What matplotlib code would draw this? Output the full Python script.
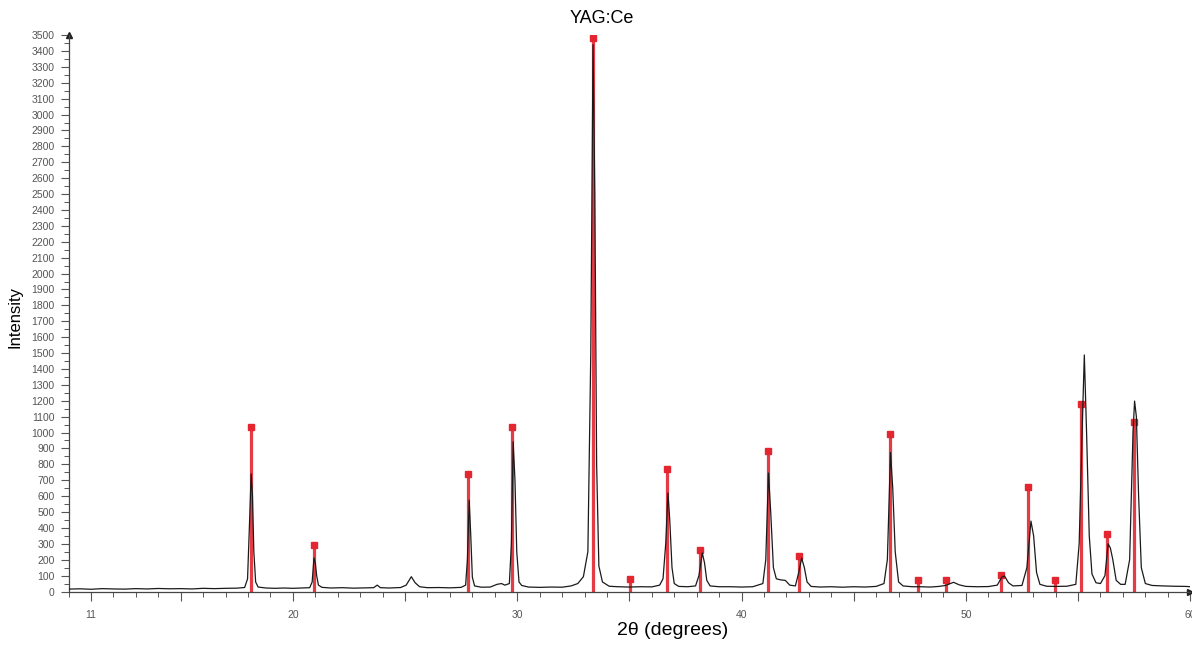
import matplotlib.pyplot as plt
from matplotlib.ticker import MultipleLocator

plt.rcParams['font.family'] = ['Liberation Sans', 'DejaVu Sans']

# reference pattern (red sticks): 2theta and intensity
ref_pos = [18.12, 20.94, 27.82, 29.78, 33.36, 35.01, 36.68, 38.13, 41.19, 42.54,
           46.61, 47.87, 49.10, 51.56, 52.79, 53.96, 55.15, 56.28, 57.49]
ref_int = [1033, 295, 738, 1033, 3480, 77, 773, 258, 886, 222,
           991, 70, 70, 105, 659, 70, 1178, 364, 1069]

scan_2theta = [10.0, 10.5, 11.0, 11.5, 12.0, 12.5, 13.0, 13.5, 14.0, 14.5,
               15.0, 15.5, 16.0, 16.5, 17.0, 17.5, 17.85, 17.98, 18.06, 18.14,
               18.20, 18.26, 18.34, 18.45, 18.8, 19.2, 19.6, 20.0, 20.4, 20.75,
               20.86, 20.94, 21.00, 21.06, 21.14, 21.3, 21.7, 22.2, 22.7, 23.2,
               23.6, 23.76, 23.9, 24.3, 24.8, 25.05, 25.28, 25.45, 25.65, 26.0,
               26.5, 27.0, 27.5, 27.7, 27.78, 27.86, 27.93, 28.0, 28.1, 28.4,
               28.8, 29.1, 29.3, 29.45, 29.65, 29.74, 29.82, 29.90, 29.98, 30.08,
               30.2, 30.5, 31.0, 31.5, 32.0, 32.4, 32.7, 32.95, 33.15, 33.28,
               33.38, 33.46, 33.54, 33.64, 33.8, 34.1, 34.5, 35.0, 35.5, 36.0,
               36.35, 36.5, 36.62, 36.72, 36.80, 36.90, 37.0, 37.2, 37.6, 37.95,
               38.1, 38.25, 38.35, 38.45, 38.6, 39.0, 39.5, 40.0, 40.5, 40.95,
               41.08, 41.20, 41.30, 41.42, 41.55, 41.75, 41.95, 42.15, 42.4, 42.55,
               42.68, 42.8, 42.92, 43.1, 43.5, 44.0, 44.5, 45.0, 45.5, 46.0,
               46.35, 46.5, 46.64, 46.74, 46.85, 47.0, 47.2, 47.6, 48.0, 48.4,
               48.8, 49.1, 49.45, 49.7, 50.0, 50.5, 51.0, 51.4, 51.6, 51.72,
               51.9, 52.1, 52.5, 52.72, 52.9, 53.02, 53.15, 53.3, 53.6, 54.0,
               54.5, 54.9, 55.05, 55.18, 55.28, 55.38, 55.5, 55.62, 55.8, 56.0,
               56.2, 56.34, 56.44, 56.55, 56.7, 56.9, 57.1, 57.3, 57.45, 57.52,
               57.6, 57.7, 57.82, 58.0, 58.3, 58.8, 59.3, 59.8, 60.0]
scan_counts = [15, 17, 14, 18, 16, 15, 18, 16, 19, 17,
               18, 16, 20, 18, 20, 21, 25, 80, 400, 740,
               600, 250, 60, 28, 22, 20, 22, 20, 22, 24,
               60, 211, 180, 100, 40, 26, 22, 24, 21, 23,
               24, 40, 24, 22, 25, 40, 93, 55, 30, 24,
               25, 23, 26, 40, 200, 575, 350, 90, 35, 27,
               28, 45, 50, 40, 50, 300, 942, 700, 250, 60,
               38, 28, 26, 28, 27, 35, 50, 93, 250, 1500,
               3440, 2500, 800, 160, 60, 33, 30, 28, 30, 29,
               40, 80, 300, 620, 450, 150, 50, 32, 30, 35,
               100, 242, 180, 70, 35, 30, 30, 28, 30, 50,
               200, 745, 500, 150, 80, 73, 70, 40, 35, 120,
               210, 150, 60, 32, 28, 30, 27, 30, 28, 32,
               50, 200, 874, 650, 250, 60, 35, 30, 30, 28,
               32, 38, 58, 42, 32, 30, 31, 40, 90, 98,
               55, 35, 38, 150, 443, 350, 120, 45, 33, 32,
               33, 45, 300, 1000, 1488, 1000, 350, 110, 55, 50,
               100, 300, 274, 200, 70, 45, 45, 200, 1000, 1198,
               1100, 600, 150, 50, 38, 35, 33, 32, 30]

fig = plt.figure(figsize=(11.92, 6.5), dpi=100)
ax = fig.add_axes([0.0575, 0.09, 0.941, 0.856])

# red reference sticks with square caps
ax.vlines(ref_pos, 0, ref_int, color='#e32630', lw=2.3, alpha=0.9, zorder=2)
ax.plot(ref_pos, ref_int, 's', color='#e32630', ms=4.2, zorder=3)

# measured scan
ax.plot(scan_2theta, scan_counts, color='#1a1a1a', lw=0.9, zorder=4)

ax.set_xlim(10, 60)
ax.set_ylim(0, 3500)

ax.set_xticks([11, 15, 20, 25, 30, 35, 40, 45, 50, 55, 60])
ax.set_xticklabels(['11', '', '20', '', '30', '', '40', '', '50', '', '60'])
ax.xaxis.set_minor_locator(MultipleLocator(1))
ax.yaxis.set_major_locator(MultipleLocator(100))
ax.yaxis.set_minor_locator(MultipleLocator(50))

ax.tick_params(axis='both', which='major', labelsize=7.5, labelcolor='#555555',
               color='#555555', width=0.8)
ax.tick_params(axis='x', which='major', length=6.5, pad=7)
ax.tick_params(axis='y', which='major', length=6, pad=4)
ax.tick_params(axis='both', which='minor', length=3.5, color='#555555', width=0.7)

for side in ['top', 'right']:
    ax.spines[side].set_visible(False)
for side in ['left', 'bottom']:
    ax.spines[side].set_color('#444444')
    ax.spines[side].set_linewidth(0.9)

# little arrow heads at the axis ends
ax.plot(0, 1, '^', color='#222222', ms=4, transform=ax.transAxes, clip_on=False)
ax.plot(1, 0, '>', color='#222222', ms=4, transform=ax.transAxes, clip_on=False)

fig.text(0.505, 0.972, 'YAG:Ce', ha='center', va='center', fontsize=13)
fig.text(0.564, 0.017, '2θ (degrees)', ha='center', va='bottom', fontsize=14,
         family=['Liberation Sans', 'DejaVu Sans'])
fig.text(0.013, 0.512, 'Intensity', ha='center', va='center', rotation=90,
         fontsize=12)

fig.savefig('out.png', dpi=100)
